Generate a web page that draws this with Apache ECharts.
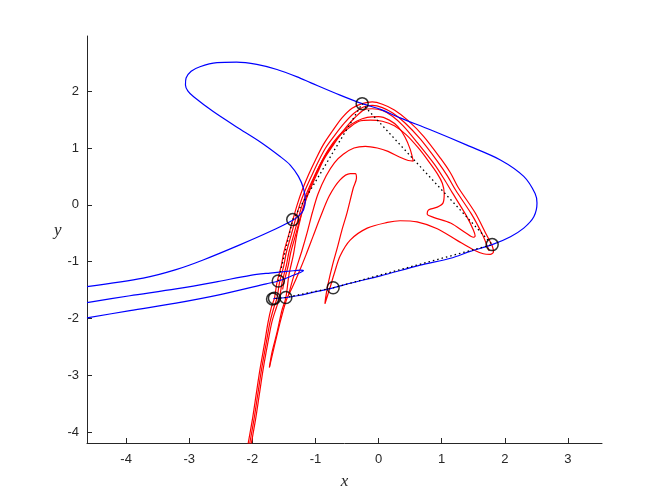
<!DOCTYPE html>
<html><head><meta charset="utf-8">
<script src="https://cdn.jsdelivr.net/npm/echarts@6/dist/echarts.min.js"></script>
<style>html,body{margin:0;padding:0;background:#fff}#c{width:664px;height:498px}</style>
</head><body><div id="c"></div>
<script>
// axis limits and ticks
const X_MIN = -4.62, X_MAX = 3.54;
const Y_MIN = -4.19, Y_MAX = 2.97;
const X_TICKS = [-4, -3, -2, -1, 0, 1, 2, 3];
const Y_TICKS = [-4, -3, -2, -1, 0, 1, 2];

// blue curve: branch from the fixed point, around the big loop, leaving at the left edge
const blueMain = [[-1.665,-1.65],[-1.46,-1.63],[-1.29,-1.60],[-1.04,-1.54],[-0.72,-1.46],[-0.45,-1.38],[0.03,-1.25],[0.66,-1.06],[1.14,-0.94],[1.45,-0.82],[1.80,-0.70],[2.09,-0.56],[2.30,-0.41],[2.46,-0.21],[2.51,0.03],[2.48,0.20],[2.30,0.50],[1.93,0.79],[1.40,1.05],[0.82,1.32],[0.34,1.53],[0.03,1.68],[-0.26,1.78],[-0.61,1.93],[-1.08,2.15],[-1.29,2.25],[-1.61,2.38],[-1.93,2.47],[-2.25,2.51],[-2.56,2.50],[-2.83,2.43],[-2.97,2.35],[-3.05,2.23],[-3.06,2.11],[-3.02,2.00],[-2.93,1.90],[-2.62,1.64],[-2.25,1.37],[-1.88,1.11],[-1.56,0.85],[-1.40,0.70],[-1.27,0.50],[-1.19,0.29],[-1.16,0.09],[-1.19,-0.09],[-1.26,-0.19],[-1.36,-0.27],[-1.72,-0.47],[-2.19,-0.70],[-2.78,-0.97],[-3.21,-1.14],[-3.73,-1.29],[-4.62,-1.44]];
// blue curve: re-entering branch with the fold near x=-1.2
const blueFold = [[-4.62,-1.99],[-3.94,-1.86],[-3.21,-1.73],[-2.51,-1.58],[-1.78,-1.39],[-1.59,-1.34],[-1.35,-1.24],[-1.24,-1.19],[-1.19,-1.16],[-1.24,-1.15],[-1.35,-1.16],[-1.72,-1.20],[-2.03,-1.24],[-2.59,-1.36],[-3.21,-1.48],[-3.94,-1.60],[-4.62,-1.72]];

// red curves
const redOuter = [[-2.07,-4.22],[-2.00,-3.78],[-1.94,-3.34],[-1.88,-2.90],[-1.81,-2.46],[-1.75,-2.06],[-1.70,-1.81],[-1.65,-1.64],[-1.61,-1.37],[-1.54,-1.06],[-1.50,-0.83],[-1.43,-0.55],[-1.36,-0.27],[-1.29,0.00],[-1.21,0.26],[-1.11,0.53],[-1.00,0.79],[-0.88,1.05],[-0.73,1.30],[-0.58,1.53],[-0.42,1.70],[-0.26,1.78],[-0.10,1.81],[0.06,1.77],[0.25,1.67],[0.46,1.49],[0.71,1.21],[0.98,0.82],[1.14,0.56],[1.26,0.31],[1.53,-0.14],[1.72,-0.55],[1.80,-0.72],[1.82,-0.83],[1.77,-0.87],[1.66,-0.86],[1.50,-0.79],[1.25,-0.63],[0.93,-0.42],[0.61,-0.30],[0.34,-0.28],[0.14,-0.31],[-0.18,-0.41],[-0.45,-0.62],[-0.61,-0.90],[-0.70,-1.20],[-0.77,-1.46],[-0.83,-1.67],[-0.85,-1.74],[-0.84,-1.64],[-0.80,-1.39],[-0.73,-1.06],[-0.65,-0.74],[-0.58,-0.44],[-0.50,-0.14],[-0.40,0.30],[-0.35,0.47],[-0.37,0.55],[-0.45,0.55],[-0.61,0.44],[-0.78,0.16],[-0.92,-0.21],[-1.04,-0.56],[-1.15,-0.88],[-1.26,-1.18],[-1.37,-1.46],[-1.46,-1.67],[-1.57,-2.11],[-1.73,-2.86]];
const redSecond = [[-2.045,-4.22],[-1.975,-3.78],[-1.915,-3.34],[-1.855,-2.90],[-1.785,-2.46],[-1.72,-2.06],[-1.66,-1.81],[-1.61,-1.64],[-1.57,-1.37],[-1.50,-1.06],[-1.46,-0.83],[-1.39,-0.55],[-1.32,-0.27],[-1.25,0.00],[-1.17,0.24],[-1.07,0.49],[-0.96,0.75],[-0.84,1.00],[-0.69,1.23],[-0.54,1.44],[-0.39,1.61],[-0.24,1.72],[-0.10,1.75],[0.06,1.71],[0.23,1.61],[0.42,1.44],[0.66,1.16],[0.93,0.77],[1.09,0.51],[1.22,0.26],[1.47,-0.16],[1.64,-0.51],[1.72,-0.72],[1.75,-0.81]];
const redThird = [[-2.02,-4.22],[-1.95,-3.78],[-1.89,-3.34],[-1.83,-2.90],[-1.76,-2.46],[-1.69,-2.06],[-1.62,-1.81],[-1.57,-1.64],[-1.53,-1.37],[-1.46,-1.06],[-1.42,-0.83],[-1.35,-0.55],[-1.28,-0.27],[-1.21,0.00],[-1.13,0.23],[-1.04,0.45],[-0.92,0.72],[-0.80,0.95],[-0.65,1.17],[-0.51,1.37],[-0.37,1.54],[-0.23,1.67],[-0.10,1.69],[0.06,1.66],[0.22,1.56],[0.39,1.39],[0.61,1.10],[0.88,0.72],[1.04,0.45],[1.17,0.21],[1.39,-0.19],[1.50,-0.44],[1.53,-0.55],[1.50,-0.57],[1.39,-0.50],[1.14,-0.32],[0.87,-0.22],[0.77,-0.16],[0.79,-0.09],[0.93,-0.04],[1.02,0.03],[1.04,0.20],[1.01,0.38],[0.93,0.55],[0.79,0.77],[0.63,1.00],[0.44,1.23],[0.25,1.39],[0.06,1.47],[-0.13,1.49],[-0.31,1.47],[-0.46,1.36],[-0.61,1.22],[-0.73,1.03],[-0.86,0.81],[-0.97,0.56],[-1.07,0.31],[-1.15,0.09],[-1.21,-0.12],[-1.25,-0.30],[-1.30,-0.55],[-1.35,-0.88],[-1.42,-1.23],[-1.47,-1.64],[-1.53,-1.85],[-1.61,-2.25],[-1.69,-2.60],[-1.73,-2.86]];
const redFold = [[-1.52,-1.49],[-1.50,-1.37],[-1.43,-1.06],[-1.39,-0.83],[-1.32,-0.55],[-1.25,-0.27],[-1.18,0.00],[-1.10,0.26],[-1.00,0.53],[-0.89,0.79],[-0.78,1.00],[-0.65,1.19],[-0.51,1.35],[-0.35,1.47],[-0.18,1.54],[0.00,1.55],[0.17,1.49],[0.31,1.37],[0.42,1.19],[0.50,0.98],[0.55,0.77],[0.47,0.78],[0.33,0.84],[0.15,0.94],[-0.02,1.00],[-0.21,1.03],[-0.39,1.00],[-0.56,0.89],[-0.70,0.74],[-0.83,0.51],[-0.96,0.19],[-1.05,-0.14],[-1.13,-0.48],[-1.21,-0.79],[-1.29,-1.07],[-1.37,-1.35],[-1.43,-1.60]];

// orbit points (circles) and the dotted path joining them
const orbitPath = [[-1.59,-1.34],[-1.36,-0.26],[-0.26,1.78],[1.80,-0.70],[-0.72,-1.46],[-1.47,-1.63],[-1.665,-1.65]];
const circlePts = [[-1.36,-0.26],[-0.26,1.78],[1.80,-0.70],[-0.72,-1.46],[-1.47,-1.63],[-1.59,-1.34],[-1.68,-1.655],[-1.65,-1.645]];

const RED = '#ff0000', BLUE = '#0000ff', AX = '#262626';
function lineSeries(data, color, z) {
  return {type:'line', data: data, showSymbol:false, symbol:'none', z: z, smooth:0.3,
    lineStyle:{color: color, width: 1.2}, silent:true, animation:false, clip:true};
}
const series = [
  lineSeries(redOuter, RED, 2), lineSeries(redSecond, RED, 2), lineSeries(redThird, RED, 2), lineSeries(redFold, RED, 2),
  lineSeries(blueMain, BLUE, 3), lineSeries(blueFold, BLUE, 3),
  {type:'line', data: orbitPath, showSymbol:false, symbol:'none', z:4,
   lineStyle:{color:'#000', width:1.3, type:[1.5,3]}, silent:true, animation:false},
  {type:'scatter', data: circlePts, symbol:'circle', symbolSize:12, z:5,
   itemStyle:{color:'rgba(0,0,0,0)', borderColor:'#000', borderWidth:1.5}, silent:true, animation:false}
];

const chart = echarts.init(document.getElementById('c'), null, {renderer:'canvas'});
chart.setOption({
  backgroundColor:'#fff',
  animation:false,
  grid:{left:87, right:62, top:36, bottom:55, containLabel:false},
  xAxis:{type:'value', min:X_MIN, max:X_MAX,
    axisLine:{onZero:false, lineStyle:{color:AX, width:1}},
    axisTick:{inside:true, length:5, customValues:X_TICKS, lineStyle:{color:AX}},
    axisLabel:{customValues:X_TICKS, color:AX, fontSize:13, margin:10, fontFamily:'Liberation Sans'},
    splitLine:{show:false},
    name:'x', nameLocation:'middle', nameGap:30,
    nameTextStyle:{fontFamily:'Liberation Serif', fontStyle:'italic', fontSize:17, color:AX}},
  yAxis:{type:'value', min:Y_MIN, max:Y_MAX,
    axisLine:{onZero:false, lineStyle:{color:AX, width:1}},
    axisTick:{inside:true, length:5, customValues:Y_TICKS, lineStyle:{color:AX}},
    axisLabel:{customValues:Y_TICKS, color:AX, fontSize:13, margin:8, fontFamily:'Liberation Sans'},
    splitLine:{show:false},
    name:'y', nameLocation:'middle', nameRotate:0, nameGap:18,
    nameTextStyle:{fontFamily:'Liberation Serif', fontStyle:'italic', fontSize:17, color:AX, verticalAlign:'bottom'}},
  series: series
});
</script></body></html>
